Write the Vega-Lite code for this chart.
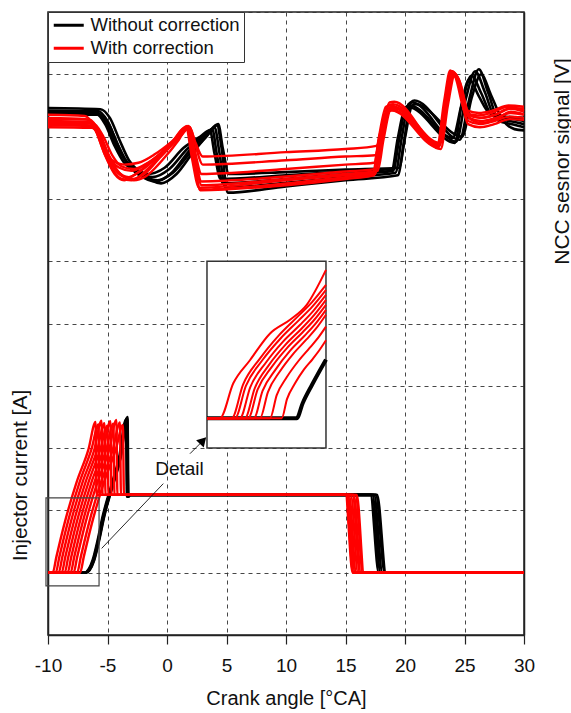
{
"$schema": "https://vega.github.io/schema/vega-lite/v6.json",
"width": 476, "height": 623,
"autosize": {"type": "none"},
"padding": {"left": 48, "top": 12, "right": 47, "bottom": 78},
"background": "white",
"config": {
  "font": "Liberation Sans",
  "view": {"stroke": "#222", "strokeWidth": 1.5},
  "axis": {"gridColor": "#333", "gridDash": [4, 4], "gridWidth": 1, "gridOpacity": 0.9, "domainColor": "#222", "domainWidth": 1.5, "tickColor": "#222", "labelColor": "#111", "titleColor": "#111", "labelFont": "Liberation Sans", "titleFont": "Liberation Sans", "titleFontWeight": "normal"},
  "legend": {"orient": "top-left", "offset": 0, "padding": 4, "fillColor": "white", "strokeColor": "#333", "symbolType": "M-1,0H3", "symbolSize": 225, "symbolStrokeWidth": 3, "labelFontSize": 18.5, "labelLimit": 300, "labelColor": "#111", "rowPadding": 4, "labelOffset": 20}
},
"datasets": {
"main": [
{"s":"nb1","g":"b","x":-10,"y":8.46},{"s":"nb1","g":"b","x":-5.6,"y":8.44},{"s":"nb1","g":"b","x":-4.8,"y":8.3},{"s":"nb1","g":"b","x":-4.0,"y":7.95},{"s":"nb1","g":"b","x":-3.2,"y":7.62},{"s":"nb1","g":"b","x":-2.2,"y":7.42},{"s":"nb1","g":"b","x":-0.5,"y":7.25},{"s":"nb1","g":"b","x":0.8,"y":7.4},{"s":"nb1","g":"b","x":2.2,"y":7.75},{"s":"nb1","g":"b","x":3.4,"y":8.02},{"s":"nb1","g":"b","x":4.2,"y":8.18},{"s":"nb1","g":"b","x":4.6,"y":7.8},{"s":"nb1","g":"b","x":5.1,"y":7.1},{"s":"nb1","g":"b","x":10,"y":7.2},{"s":"nb1","g":"b","x":15,"y":7.3},{"s":"nb1","g":"b","x":19.4,"y":7.38},{"s":"nb1","g":"b","x":19.9,"y":7.9},{"s":"nb1","g":"b","x":20.5,"y":8.55},{"s":"nb1","g":"b","x":20.8,"y":8.58},{"s":"nb1","g":"b","x":24.6,"y":7.95},{"s":"nb1","g":"b","x":25.4,"y":8.6},{"s":"nb1","g":"b","x":26.2,"y":9.08},{"s":"nb1","g":"b","x":27.0,"y":8.7},{"s":"nb1","g":"b","x":27.9,"y":8.25},{"s":"nb1","g":"b","x":29,"y":8.2},{"s":"nb1","g":"b","x":30,"y":8.15},
{"s":"nb2","g":"b","x":-10,"y":8.42},{"s":"nb2","g":"b","x":-5.8,"y":8.41},{"s":"nb2","g":"b","x":-5.0,"y":8.25},{"s":"nb2","g":"b","x":-4.2,"y":7.9},{"s":"nb2","g":"b","x":-3.4,"y":7.6},{"s":"nb2","g":"b","x":-2.4,"y":7.42},{"s":"nb2","g":"b","x":-0.8,"y":7.3},{"s":"nb2","g":"b","x":0.5,"y":7.42},{"s":"nb2","g":"b","x":2.0,"y":7.75},{"s":"nb2","g":"b","x":3.2,"y":7.98},{"s":"nb2","g":"b","x":4.0,"y":8.15},{"s":"nb2","g":"b","x":4.4,"y":7.75},{"s":"nb2","g":"b","x":4.9,"y":7.18},{"s":"nb2","g":"b","x":10,"y":7.26},{"s":"nb2","g":"b","x":15,"y":7.35},{"s":"nb2","g":"b","x":19.2,"y":7.42},{"s":"nb2","g":"b","x":19.7,"y":7.95},{"s":"nb2","g":"b","x":20.3,"y":8.52},{"s":"nb2","g":"b","x":20.6,"y":8.55},{"s":"nb2","g":"b","x":24.3,"y":7.92},{"s":"nb2","g":"b","x":25.1,"y":8.6},{"s":"nb2","g":"b","x":25.9,"y":9.05},{"s":"nb2","g":"b","x":26.7,"y":8.72},{"s":"nb2","g":"b","x":27.6,"y":8.3},{"s":"nb2","g":"b","x":28.8,"y":8.25},{"s":"nb2","g":"b","x":30,"y":8.2},
{"s":"nb3","g":"b","x":-10,"y":8.38},{"s":"nb3","g":"b","x":-6.0,"y":8.37},{"s":"nb3","g":"b","x":-5.2,"y":8.2},{"s":"nb3","g":"b","x":-4.4,"y":7.85},{"s":"nb3","g":"b","x":-3.6,"y":7.58},{"s":"nb3","g":"b","x":-2.6,"y":7.45},{"s":"nb3","g":"b","x":-1.2,"y":7.35},{"s":"nb3","g":"b","x":0.2,"y":7.48},{"s":"nb3","g":"b","x":1.7,"y":7.8},{"s":"nb3","g":"b","x":3.0,"y":8.0},{"s":"nb3","g":"b","x":3.8,"y":8.12},{"s":"nb3","g":"b","x":4.2,"y":7.7},{"s":"nb3","g":"b","x":4.7,"y":7.25},{"s":"nb3","g":"b","x":10,"y":7.32},{"s":"nb3","g":"b","x":15,"y":7.4},{"s":"nb3","g":"b","x":19.0,"y":7.45},{"s":"nb3","g":"b","x":19.5,"y":7.95},{"s":"nb3","g":"b","x":20.1,"y":8.48},{"s":"nb3","g":"b","x":20.4,"y":8.5},{"s":"nb3","g":"b","x":24.0,"y":7.98},{"s":"nb3","g":"b","x":24.8,"y":8.55},{"s":"nb3","g":"b","x":25.6,"y":8.98},{"s":"nb3","g":"b","x":26.4,"y":8.7},{"s":"nb3","g":"b","x":27.3,"y":8.35},{"s":"nb3","g":"b","x":28.6,"y":8.3},{"s":"nb3","g":"b","x":30,"y":8.25},
{"s":"nb4","g":"b","x":-10,"y":8.40},{"s":"nb4","g":"b","x":-5.9,"y":8.39},{"s":"nb4","g":"b","x":-5.1,"y":8.22},{"s":"nb4","g":"b","x":-4.3,"y":7.88},{"s":"nb4","g":"b","x":-3.5,"y":7.62},{"s":"nb4","g":"b","x":-2.6,"y":7.48},{"s":"nb4","g":"b","x":-1.6,"y":7.4},{"s":"nb4","g":"b","x":-0.2,"y":7.5},{"s":"nb4","g":"b","x":1.4,"y":7.82},{"s":"nb4","g":"b","x":2.8,"y":8.0},{"s":"nb4","g":"b","x":3.6,"y":8.1},{"s":"nb4","g":"b","x":4.0,"y":7.72},{"s":"nb4","g":"b","x":4.5,"y":7.32},{"s":"nb4","g":"b","x":10,"y":7.38},{"s":"nb4","g":"b","x":15,"y":7.44},{"s":"nb4","g":"b","x":18.9,"y":7.48},{"s":"nb4","g":"b","x":19.4,"y":7.98},{"s":"nb4","g":"b","x":20.0,"y":8.45},{"s":"nb4","g":"b","x":20.3,"y":8.47},{"s":"nb4","g":"b","x":24.2,"y":7.9},{"s":"nb4","g":"b","x":24.7,"y":8.45},{"s":"nb4","g":"b","x":25.4,"y":8.92},{"s":"nb4","g":"b","x":26.2,"y":8.65},{"s":"nb4","g":"b","x":27.1,"y":8.38},{"s":"nb4","g":"b","x":28.5,"y":8.32},{"s":"nb4","g":"b","x":30,"y":8.3},
{"s":"nb5","g":"b","x":-10,"y":8.36},{"s":"nb5","g":"b","x":-5.7,"y":8.35},{"s":"nb5","g":"b","x":-4.9,"y":8.2},{"s":"nb5","g":"b","x":-4.1,"y":7.85},{"s":"nb5","g":"b","x":-3.3,"y":7.55},{"s":"nb5","g":"b","x":-2.3,"y":7.38},{"s":"nb5","g":"b","x":-1.0,"y":7.28},{"s":"nb5","g":"b","x":0.4,"y":7.42},{"s":"nb5","g":"b","x":1.9,"y":7.78},{"s":"nb5","g":"b","x":3.4,"y":8.05},{"s":"nb5","g":"b","x":4.3,"y":8.2},{"s":"nb5","g":"b","x":4.7,"y":7.8},{"s":"nb5","g":"b","x":5.2,"y":7.4},{"s":"nb5","g":"b","x":10,"y":7.43},{"s":"nb5","g":"b","x":15,"y":7.47},{"s":"nb5","g":"b","x":19.5,"y":7.5},{"s":"nb5","g":"b","x":20.0,"y":7.98},{"s":"nb5","g":"b","x":20.6,"y":8.5},{"s":"nb5","g":"b","x":20.9,"y":8.52},{"s":"nb5","g":"b","x":24.8,"y":8.0},{"s":"nb5","g":"b","x":25.6,"y":8.62},{"s":"nb5","g":"b","x":26.4,"y":9.0},{"s":"nb5","g":"b","x":27.2,"y":8.68},{"s":"nb5","g":"b","x":28.1,"y":8.3},{"s":"nb5","g":"b","x":29.2,"y":8.12},{"s":"nb5","g":"b","x":30,"y":8.1},
{"s":"ib1","g":"b","x":-10,"y":1},{"s":"ib1","g":"b","x":-6.95,"y":1},{"s":"ib1","g":"b","x":-6.25,"y":1.2},{"s":"ib1","g":"b","x":-5.83,"y":1.52},{"s":"ib1","g":"b","x":-5.41,"y":1.9},{"s":"ib1","g":"b","x":-4.71,"y":2.38},{"s":"ib1","g":"b","x":-4.01,"y":2.86},{"s":"ib1","g":"b","x":-3.45,"y":3.46},{"s":"ib1","g":"b","x":-3.36,"y":2.22},{"s":"ib1","g":"b","x":-3.2,"y":2.25},{"s":"ib1","g":"b","x":17.1,"y":2.25},{"s":"ib1","g":"b","x":17.8,"y":1},{"s":"ib1","g":"b","x":30,"y":1},
{"s":"ib2","g":"b","x":-10,"y":1},{"s":"ib2","g":"b","x":-6.88,"y":1},{"s":"ib2","g":"b","x":-6.18,"y":1.2},{"s":"ib2","g":"b","x":-5.76,"y":1.52},{"s":"ib2","g":"b","x":-5.34,"y":1.9},{"s":"ib2","g":"b","x":-4.64,"y":2.38},{"s":"ib2","g":"b","x":-3.94,"y":2.86},{"s":"ib2","g":"b","x":-3.38,"y":3.48},{"s":"ib2","g":"b","x":-3.3,"y":2.22},{"s":"ib2","g":"b","x":-3.15,"y":2.25},{"s":"ib2","g":"b","x":17.25,"y":2.25},{"s":"ib2","g":"b","x":17.95,"y":1},{"s":"ib2","g":"b","x":30,"y":1},
{"s":"ib3","g":"b","x":-10,"y":1},{"s":"ib3","g":"b","x":-6.82,"y":1},{"s":"ib3","g":"b","x":-6.12,"y":1.2},{"s":"ib3","g":"b","x":-5.70,"y":1.52},{"s":"ib3","g":"b","x":-5.28,"y":1.9},{"s":"ib3","g":"b","x":-4.58,"y":2.38},{"s":"ib3","g":"b","x":-3.88,"y":2.86},{"s":"ib3","g":"b","x":-3.32,"y":3.5},{"s":"ib3","g":"b","x":-3.24,"y":2.22},{"s":"ib3","g":"b","x":-3.1,"y":2.25},{"s":"ib3","g":"b","x":17.4,"y":2.25},{"s":"ib3","g":"b","x":18.1,"y":1},{"s":"ib3","g":"b","x":30,"y":1},
{"s":"ib4","g":"b","x":-10,"y":1},{"s":"ib4","g":"b","x":-6.9,"y":1},{"s":"ib4","g":"b","x":-6.2,"y":1.2},{"s":"ib4","g":"b","x":-5.78,"y":1.52},{"s":"ib4","g":"b","x":-5.36,"y":1.9},{"s":"ib4","g":"b","x":-4.66,"y":2.38},{"s":"ib4","g":"b","x":-3.96,"y":2.86},{"s":"ib4","g":"b","x":-3.4,"y":3.44},{"s":"ib4","g":"b","x":-3.32,"y":2.22},{"s":"ib4","g":"b","x":-3.18,"y":2.25},{"s":"ib4","g":"b","x":17.55,"y":2.25},{"s":"ib4","g":"b","x":18.3,"y":1},{"s":"ib4","g":"b","x":30,"y":1},
{"s":"ib5","g":"b","x":-10,"y":1},{"s":"ib5","g":"b","x":-6.85,"y":1},{"s":"ib5","g":"b","x":-6.15,"y":1.2},{"s":"ib5","g":"b","x":-5.73,"y":1.52},{"s":"ib5","g":"b","x":-5.31,"y":1.9},{"s":"ib5","g":"b","x":-4.61,"y":2.38},{"s":"ib5","g":"b","x":-3.91,"y":2.86},{"s":"ib5","g":"b","x":-3.35,"y":3.47},{"s":"ib5","g":"b","x":-3.27,"y":2.22},{"s":"ib5","g":"b","x":-3.12,"y":2.25},{"s":"ib5","g":"b","x":17.65,"y":2.25},{"s":"ib5","g":"b","x":18.4,"y":1},{"s":"ib5","g":"b","x":30,"y":1},
{"s":"nr1","g":"r","x":-10,"y":8.30},{"s":"nr1","g":"r","x":-6.8,"y":8.28},{"s":"nr1","g":"r","x":-6.0,"y":8.1},{"s":"nr1","g":"r","x":-5.2,"y":7.7},{"s":"nr1","g":"r","x":-4.4,"y":7.4},{"s":"nr1","g":"r","x":-3.6,"y":7.3},{"s":"nr1","g":"r","x":-2.8,"y":7.38},{"s":"nr1","g":"r","x":-1.0,"y":7.65},{"s":"nr1","g":"r","x":0.6,"y":7.95},{"s":"nr1","g":"r","x":1.7,"y":8.17},{"s":"nr1","g":"r","x":2.2,"y":7.7},{"s":"nr1","g":"r","x":2.8,"y":7.15},{"s":"nr1","g":"r","x":10,"y":7.25},{"s":"nr1","g":"r","x":15,"y":7.35},{"s":"nr1","g":"r","x":17.5,"y":7.4},{"s":"nr1","g":"r","x":18.0,"y":7.95},{"s":"nr1","g":"r","x":18.6,"y":8.45},{"s":"nr1","g":"r","x":19.0,"y":8.48},{"s":"nr1","g":"r","x":22.8,"y":7.85},{"s":"nr1","g":"r","x":23.4,"y":8.5},{"s":"nr1","g":"r","x":24.0,"y":9.05},{"s":"nr1","g":"r","x":24.4,"y":8.95},{"s":"nr1","g":"r","x":25.3,"y":8.35},{"s":"nr1","g":"r","x":26.3,"y":8.3},{"s":"nr1","g":"r","x":27.5,"y":8.35},{"s":"nr1","g":"r","x":28.8,"y":8.45},{"s":"nr1","g":"r","x":30,"y":8.4},
{"s":"nr2","g":"r","x":-10,"y":8.25},{"s":"nr2","g":"r","x":-6.6,"y":8.23},{"s":"nr2","g":"r","x":-5.8,"y":8.05},{"s":"nr2","g":"r","x":-5.0,"y":7.68},{"s":"nr2","g":"r","x":-4.2,"y":7.45},{"s":"nr2","g":"r","x":-3.2,"y":7.35},{"s":"nr2","g":"r","x":-2.2,"y":7.45},{"s":"nr2","g":"r","x":-0.6,"y":7.7},{"s":"nr2","g":"r","x":0.8,"y":7.95},{"s":"nr2","g":"r","x":1.8,"y":8.15},{"s":"nr2","g":"r","x":2.3,"y":7.75},{"s":"nr2","g":"r","x":2.9,"y":7.28},{"s":"nr2","g":"r","x":10,"y":7.36},{"s":"nr2","g":"r","x":15,"y":7.44},{"s":"nr2","g":"r","x":17.6,"y":7.48},{"s":"nr2","g":"r","x":18.1,"y":8.0},{"s":"nr2","g":"r","x":18.7,"y":8.42},{"s":"nr2","g":"r","x":19.1,"y":8.45},{"s":"nr2","g":"r","x":22.9,"y":7.88},{"s":"nr2","g":"r","x":23.5,"y":8.55},{"s":"nr2","g":"r","x":24.1,"y":9.02},{"s":"nr2","g":"r","x":24.5,"y":8.9},{"s":"nr2","g":"r","x":25.4,"y":8.3},{"s":"nr2","g":"r","x":26.4,"y":8.25},{"s":"nr2","g":"r","x":27.6,"y":8.3},{"s":"nr2","g":"r","x":28.9,"y":8.38},{"s":"nr2","g":"r","x":30,"y":8.35},
{"s":"nr3","g":"r","x":-10,"y":8.2},{"s":"nr3","g":"r","x":-6.4,"y":8.18},{"s":"nr3","g":"r","x":-5.6,"y":8.0},{"s":"nr3","g":"r","x":-4.8,"y":7.65},{"s":"nr3","g":"r","x":-4.0,"y":7.5},{"s":"nr3","g":"r","x":-3.0,"y":7.45},{"s":"nr3","g":"r","x":-1.8,"y":7.55},{"s":"nr3","g":"r","x":-0.2,"y":7.78},{"s":"nr3","g":"r","x":1.0,"y":7.98},{"s":"nr3","g":"r","x":1.8,"y":8.14},{"s":"nr3","g":"r","x":2.3,"y":7.8},{"s":"nr3","g":"r","x":2.9,"y":7.4},{"s":"nr3","g":"r","x":10,"y":7.48},{"s":"nr3","g":"r","x":15,"y":7.55},{"s":"nr3","g":"r","x":17.4,"y":7.58},{"s":"nr3","g":"r","x":17.9,"y":8.05},{"s":"nr3","g":"r","x":18.5,"y":8.4},{"s":"nr3","g":"r","x":18.9,"y":8.42},{"s":"nr3","g":"r","x":22.8,"y":7.82},{"s":"nr3","g":"r","x":23.4,"y":8.6},{"s":"nr3","g":"r","x":23.9,"y":9.05},{"s":"nr3","g":"r","x":24.3,"y":8.95},{"s":"nr3","g":"r","x":25.2,"y":8.42},{"s":"nr3","g":"r","x":26.2,"y":8.38},{"s":"nr3","g":"r","x":27.4,"y":8.42},{"s":"nr3","g":"r","x":28.7,"y":8.5},{"s":"nr3","g":"r","x":30,"y":8.48},
{"s":"nr4","g":"r","x":-10,"y":8.15},{"s":"nr4","g":"r","x":-6.3,"y":8.14},{"s":"nr4","g":"r","x":-5.5,"y":7.95},{"s":"nr4","g":"r","x":-4.6,"y":7.62},{"s":"nr4","g":"r","x":-3.6,"y":7.55},{"s":"nr4","g":"r","x":-2.4,"y":7.58},{"s":"nr4","g":"r","x":-1.0,"y":7.72},{"s":"nr4","g":"r","x":0.4,"y":7.92},{"s":"nr4","g":"r","x":1.2,"y":8.05},{"s":"nr4","g":"r","x":1.9,"y":8.16},{"s":"nr4","g":"r","x":2.4,"y":7.85},{"s":"nr4","g":"r","x":3.0,"y":7.55},{"s":"nr4","g":"r","x":10,"y":7.62},{"s":"nr4","g":"r","x":15,"y":7.68},{"s":"nr4","g":"r","x":17.5,"y":7.7},{"s":"nr4","g":"r","x":18.0,"y":8.1},{"s":"nr4","g":"r","x":18.6,"y":8.5},{"s":"nr4","g":"r","x":19.0,"y":8.52},{"s":"nr4","g":"r","x":22.9,"y":7.9},{"s":"nr4","g":"r","x":23.5,"y":8.62},{"s":"nr4","g":"r","x":24.0,"y":9.04},{"s":"nr4","g":"r","x":24.4,"y":8.92},{"s":"nr4","g":"r","x":25.3,"y":8.25},{"s":"nr4","g":"r","x":26.3,"y":8.2},{"s":"nr4","g":"r","x":27.5,"y":8.25},{"s":"nr4","g":"r","x":28.8,"y":8.32},{"s":"nr4","g":"r","x":30,"y":8.3},
{"s":"nr5","g":"r","x":-10,"y":8.35},{"s":"nr5","g":"r","x":-6.9,"y":8.33},{"s":"nr5","g":"r","x":-6.1,"y":8.15},{"s":"nr5","g":"r","x":-5.3,"y":7.75},{"s":"nr5","g":"r","x":-4.5,"y":7.45},{"s":"nr5","g":"r","x":-3.8,"y":7.32},{"s":"nr5","g":"r","x":-3.0,"y":7.3},{"s":"nr5","g":"r","x":-1.5,"y":7.5},{"s":"nr5","g":"r","x":0.2,"y":7.85},{"s":"nr5","g":"r","x":1.6,"y":8.15},{"s":"nr5","g":"r","x":2.1,"y":7.65},{"s":"nr5","g":"r","x":2.7,"y":7.18},{"s":"nr5","g":"r","x":10,"y":7.3},{"s":"nr5","g":"r","x":15,"y":7.38},{"s":"nr5","g":"r","x":17.3,"y":7.42},{"s":"nr5","g":"r","x":17.8,"y":7.98},{"s":"nr5","g":"r","x":18.4,"y":8.48},{"s":"nr5","g":"r","x":18.8,"y":8.5},{"s":"nr5","g":"r","x":22.7,"y":7.86},{"s":"nr5","g":"r","x":23.3,"y":8.58},{"s":"nr5","g":"r","x":23.8,"y":9.06},{"s":"nr5","g":"r","x":24.2,"y":8.97},{"s":"nr5","g":"r","x":25.1,"y":8.38},{"s":"nr5","g":"r","x":26.1,"y":8.34},{"s":"nr5","g":"r","x":27.3,"y":8.38},{"s":"nr5","g":"r","x":28.6,"y":8.48},{"s":"nr5","g":"r","x":30,"y":8.42},
{"s":"nr6","g":"r","x":-10,"y":8.28},{"s":"nr6","g":"r","x":-6.5,"y":8.27},{"s":"nr6","g":"r","x":-5.7,"y":8.08},{"s":"nr6","g":"r","x":-4.9,"y":7.7},{"s":"nr6","g":"r","x":-4.0,"y":7.42},{"s":"nr6","g":"r","x":-2.8,"y":7.3},{"s":"nr6","g":"r","x":-1.8,"y":7.36},{"s":"nr6","g":"r","x":-0.4,"y":7.62},{"s":"nr6","g":"r","x":1.0,"y":7.95},{"s":"nr6","g":"r","x":1.8,"y":8.17},{"s":"nr6","g":"r","x":2.3,"y":7.72},{"s":"nr6","g":"r","x":2.9,"y":7.22},{"s":"nr6","g":"r","x":10,"y":7.32},{"s":"nr6","g":"r","x":15,"y":7.4},{"s":"nr6","g":"r","x":17.7,"y":7.45},{"s":"nr6","g":"r","x":18.2,"y":7.96},{"s":"nr6","g":"r","x":18.8,"y":8.44},{"s":"nr6","g":"r","x":19.2,"y":8.46},{"s":"nr6","g":"r","x":23.0,"y":7.8},{"s":"nr6","g":"r","x":23.6,"y":8.5},{"s":"nr6","g":"r","x":24.2,"y":9.0},{"s":"nr6","g":"r","x":24.6,"y":8.88},{"s":"nr6","g":"r","x":25.5,"y":8.28},{"s":"nr6","g":"r","x":26.5,"y":8.22},{"s":"nr6","g":"r","x":27.7,"y":8.28},{"s":"nr6","g":"r","x":28.9,"y":8.4},{"s":"nr6","g":"r","x":30,"y":8.36},
{"s":"nr7","g":"r","x":-10,"y":8.22},{"s":"nr7","g":"r","x":-6.2,"y":8.21},{"s":"nr7","g":"r","x":-5.4,"y":8.02},{"s":"nr7","g":"r","x":-4.6,"y":7.7},{"s":"nr7","g":"r","x":-3.8,"y":7.52},{"s":"nr7","g":"r","x":-2.8,"y":7.48},{"s":"nr7","g":"r","x":-1.6,"y":7.58},{"s":"nr7","g":"r","x":0.0,"y":7.82},{"s":"nr7","g":"r","x":1.2,"y":8.02},{"s":"nr7","g":"r","x":1.9,"y":8.15},{"s":"nr7","g":"r","x":2.4,"y":7.9},{"s":"nr7","g":"r","x":3.0,"y":7.68},{"s":"nr7","g":"r","x":10,"y":7.75},{"s":"nr7","g":"r","x":15,"y":7.8},{"s":"nr7","g":"r","x":17.6,"y":7.85},{"s":"nr7","g":"r","x":18.1,"y":8.15},{"s":"nr7","g":"r","x":18.7,"y":8.55},{"s":"nr7","g":"r","x":19.1,"y":8.56},{"s":"nr7","g":"r","x":22.9,"y":7.85},{"s":"nr7","g":"r","x":23.5,"y":8.58},{"s":"nr7","g":"r","x":24.1,"y":9.03},{"s":"nr7","g":"r","x":24.5,"y":8.93},{"s":"nr7","g":"r","x":25.4,"y":8.35},{"s":"nr7","g":"r","x":26.4,"y":8.3},{"s":"nr7","g":"r","x":27.6,"y":8.35},{"s":"nr7","g":"r","x":28.9,"y":8.45},{"s":"nr7","g":"r","x":30,"y":8.45},
{"s":"nr8","g":"r","x":-10,"y":8.18},{"s":"nr8","g":"r","x":-6.4,"y":8.17},{"s":"nr8","g":"r","x":-5.6,"y":7.98},{"s":"nr8","g":"r","x":-4.8,"y":7.6},{"s":"nr8","g":"r","x":-3.9,"y":7.38},{"s":"nr8","g":"r","x":-2.9,"y":7.32},{"s":"nr8","g":"r","x":-1.9,"y":7.4},{"s":"nr8","g":"r","x":-0.6,"y":7.66},{"s":"nr8","g":"r","x":0.8,"y":7.95},{"s":"nr8","g":"r","x":1.7,"y":8.16},{"s":"nr8","g":"r","x":2.2,"y":7.7},{"s":"nr8","g":"r","x":2.8,"y":7.14},{"s":"nr8","g":"r","x":10,"y":7.22},{"s":"nr8","g":"r","x":15,"y":7.32},{"s":"nr8","g":"r","x":17.4,"y":7.38},{"s":"nr8","g":"r","x":17.9,"y":7.95},{"s":"nr8","g":"r","x":18.5,"y":8.4},{"s":"nr8","g":"r","x":18.9,"y":8.43},{"s":"nr8","g":"r","x":22.8,"y":7.88},{"s":"nr8","g":"r","x":23.4,"y":8.55},{"s":"nr8","g":"r","x":24.0,"y":9.0},{"s":"nr8","g":"r","x":24.4,"y":8.9},{"s":"nr8","g":"r","x":25.3,"y":8.2},{"s":"nr8","g":"r","x":26.3,"y":8.15},{"s":"nr8","g":"r","x":27.5,"y":8.2},{"s":"nr8","g":"r","x":28.8,"y":8.28},{"s":"nr8","g":"r","x":30,"y":8.27},
{"s":"ir1","g":"r","x":-10,"y":1},{"s":"ir1","g":"r","x":-9.6,"y":1},{"s":"ir1","g":"r","x":-9.3,"y":1.25},{"s":"ir1","g":"r","x":-8.6,"y":1.8},{"s":"ir1","g":"r","x":-7.6,"y":2.45},{"s":"ir1","g":"r","x":-6.6,"y":2.98},{"s":"ir1","g":"r","x":-6.0,"y":3.42},{"s":"ir1","g":"r","x":-5.92,"y":2.25},{"s":"ir1","g":"r","x":15.0,"y":2.25},{"s":"ir1","g":"r","x":15.6,"y":1},{"s":"ir1","g":"r","x":30,"y":1},
{"s":"ir2","g":"r","x":-10,"y":1},{"s":"ir2","g":"r","x":-9.35,"y":1},{"s":"ir2","g":"r","x":-9.05,"y":1.25},{"s":"ir2","g":"r","x":-8.35,"y":1.8},{"s":"ir2","g":"r","x":-7.35,"y":2.45},{"s":"ir2","g":"r","x":-6.35,"y":2.98},{"s":"ir2","g":"r","x":-5.75,"y":3.38},{"s":"ir2","g":"r","x":-5.67,"y":2.25},{"s":"ir2","g":"r","x":15.85,"y":2.25},{"s":"ir2","g":"r","x":16.45,"y":1},{"s":"ir2","g":"r","x":30,"y":1},
{"s":"ir3","g":"r","x":-10,"y":1},{"s":"ir3","g":"r","x":-9.1,"y":1},{"s":"ir3","g":"r","x":-8.8,"y":1.25},{"s":"ir3","g":"r","x":-8.1,"y":1.8},{"s":"ir3","g":"r","x":-7.1,"y":2.45},{"s":"ir3","g":"r","x":-6.1,"y":2.98},{"s":"ir3","g":"r","x":-5.5,"y":3.44},{"s":"ir3","g":"r","x":-5.42,"y":2.25},{"s":"ir3","g":"r","x":15.1,"y":2.25},{"s":"ir3","g":"r","x":15.7,"y":1},{"s":"ir3","g":"r","x":30,"y":1},
{"s":"ir4","g":"r","x":-10,"y":1},{"s":"ir4","g":"r","x":-8.85,"y":1},{"s":"ir4","g":"r","x":-8.55,"y":1.25},{"s":"ir4","g":"r","x":-7.85,"y":1.8},{"s":"ir4","g":"r","x":-6.85,"y":2.45},{"s":"ir4","g":"r","x":-5.85,"y":2.98},{"s":"ir4","g":"r","x":-5.25,"y":3.40},{"s":"ir4","g":"r","x":-5.17,"y":2.25},{"s":"ir4","g":"r","x":15.6,"y":2.25},{"s":"ir4","g":"r","x":16.2,"y":1},{"s":"ir4","g":"r","x":30,"y":1},
{"s":"ir5","g":"r","x":-10,"y":1},{"s":"ir5","g":"r","x":-8.6,"y":1},{"s":"ir5","g":"r","x":-8.3,"y":1.25},{"s":"ir5","g":"r","x":-7.6,"y":1.8},{"s":"ir5","g":"r","x":-6.6,"y":2.45},{"s":"ir5","g":"r","x":-5.6,"y":2.98},{"s":"ir5","g":"r","x":-5.0,"y":3.36},{"s":"ir5","g":"r","x":-4.92,"y":2.25},{"s":"ir5","g":"r","x":15.2,"y":2.25},{"s":"ir5","g":"r","x":15.8,"y":1},{"s":"ir5","g":"r","x":30,"y":1},
{"s":"ir6","g":"r","x":-10,"y":1},{"s":"ir6","g":"r","x":-8.35,"y":1},{"s":"ir6","g":"r","x":-8.05,"y":1.25},{"s":"ir6","g":"r","x":-7.35,"y":1.8},{"s":"ir6","g":"r","x":-6.35,"y":2.45},{"s":"ir6","g":"r","x":-5.35,"y":2.98},{"s":"ir6","g":"r","x":-4.75,"y":3.43},{"s":"ir6","g":"r","x":-4.67,"y":2.25},{"s":"ir6","g":"r","x":15.95,"y":2.25},{"s":"ir6","g":"r","x":16.55,"y":1},{"s":"ir6","g":"r","x":30,"y":1},
{"s":"ir7","g":"r","x":-10,"y":1},{"s":"ir7","g":"r","x":-8.1,"y":1},{"s":"ir7","g":"r","x":-7.8,"y":1.25},{"s":"ir7","g":"r","x":-7.1,"y":1.8},{"s":"ir7","g":"r","x":-6.1,"y":2.45},{"s":"ir7","g":"r","x":-5.1,"y":2.98},{"s":"ir7","g":"r","x":-4.5,"y":3.39},{"s":"ir7","g":"r","x":-4.42,"y":2.25},{"s":"ir7","g":"r","x":15.3,"y":2.25},{"s":"ir7","g":"r","x":15.9,"y":1},{"s":"ir7","g":"r","x":30,"y":1},
{"s":"ir8","g":"r","x":-10,"y":1},{"s":"ir8","g":"r","x":-7.85,"y":1},{"s":"ir8","g":"r","x":-7.55,"y":1.25},{"s":"ir8","g":"r","x":-6.85,"y":1.8},{"s":"ir8","g":"r","x":-5.85,"y":2.45},{"s":"ir8","g":"r","x":-4.85,"y":2.98},{"s":"ir8","g":"r","x":-4.25,"y":3.45},{"s":"ir8","g":"r","x":-4.17,"y":2.25},{"s":"ir8","g":"r","x":15.45,"y":2.25},{"s":"ir8","g":"r","x":16.05,"y":1},{"s":"ir8","g":"r","x":30,"y":1},
{"s":"ir9","g":"r","x":-10,"y":1},{"s":"ir9","g":"r","x":-7.55,"y":1},{"s":"ir9","g":"r","x":-7.25,"y":1.25},{"s":"ir9","g":"r","x":-6.55,"y":1.8},{"s":"ir9","g":"r","x":-5.55,"y":2.45},{"s":"ir9","g":"r","x":-4.55,"y":2.98},{"s":"ir9","g":"r","x":-3.95,"y":3.41},{"s":"ir9","g":"r","x":-3.87,"y":2.25},{"s":"ir9","g":"r","x":15.7,"y":2.25},{"s":"ir9","g":"r","x":16.3,"y":1},{"s":"ir9","g":"r","x":30,"y":1},
{"s":"ir10","g":"r","x":-10,"y":1},{"s":"ir10","g":"r","x":-7.3,"y":1},{"s":"ir10","g":"r","x":-7.0,"y":1.25},{"s":"ir10","g":"r","x":-6.3,"y":1.8},{"s":"ir10","g":"r","x":-5.3,"y":2.45},{"s":"ir10","g":"r","x":-4.3,"y":2.98},{"s":"ir10","g":"r","x":-3.7,"y":3.37},{"s":"ir10","g":"r","x":-3.62,"y":2.25},{"s":"ir10","g":"r","x":15.05,"y":2.25},{"s":"ir10","g":"r","x":15.65,"y":1},{"s":"ir10","g":"r","x":30,"y":1}
],
"inset": [
{"s":"c1","x":3.36,"y":3.48},{"s":"c1","x":4.45,"y":3.48},{"s":"c1","x":5.57,"y":4.04},{"s":"c1","x":6.97,"y":4.41},{"s":"c1","x":8.66,"y":4.84},{"s":"c1","x":10.34,"y":5.06},{"s":"c1","x":11.74,"y":5.30},{"s":"c1","x":13.36,"y":5.86},
{"s":"c2","x":3.36,"y":3.48},{"s":"c2","x":5.44,"y":3.48},{"s":"c2","x":6.39,"y":4.02},{"s":"c2","x":7.82,"y":4.44},{"s":"c2","x":9.40,"y":4.81},{"s":"c2","x":10.98,"y":5.11},{"s":"c2","x":12.17,"y":5.34},{"s":"c2","x":13.36,"y":5.62},
{"s":"c3","x":3.36,"y":3.48},{"s":"c3","x":5.71,"y":3.48},{"s":"c3","x":6.63,"y":4.00},{"s":"c3","x":8.01,"y":4.41},{"s":"c3","x":9.54,"y":4.76},{"s":"c3","x":11.07,"y":5.05},{"s":"c3","x":12.21,"y":5.27},{"s":"c3","x":13.36,"y":5.54},
{"s":"c4","x":3.36,"y":3.48},{"s":"c4","x":6.13,"y":3.48},{"s":"c4","x":7.00,"y":3.98},{"s":"c4","x":8.30,"y":4.37},{"s":"c4","x":9.75,"y":4.71},{"s":"c4","x":11.19,"y":4.98},{"s":"c4","x":12.28,"y":5.20},{"s":"c4","x":13.36,"y":5.46},
{"s":"c5","x":3.36,"y":3.48},{"s":"c5","x":6.55,"y":3.48},{"s":"c5","x":7.37,"y":3.96},{"s":"c5","x":8.59,"y":4.34},{"s":"c5","x":9.96,"y":4.66},{"s":"c5","x":11.32,"y":4.92},{"s":"c5","x":12.34,"y":5.13},{"s":"c5","x":13.36,"y":5.38},
{"s":"c6","x":3.36,"y":3.48},{"s":"c6","x":6.83,"y":3.48},{"s":"c6","x":7.61,"y":3.94},{"s":"c6","x":8.79,"y":4.30},{"s":"c6","x":10.10,"y":4.61},{"s":"c6","x":11.40,"y":4.86},{"s":"c6","x":12.38,"y":5.06},{"s":"c6","x":13.36,"y":5.30},
{"s":"c7","x":3.36,"y":3.48},{"s":"c7","x":7.3,"y":3.48},{"s":"c7","x":8.03,"y":3.92},{"s":"c7","x":9.12,"y":4.26},{"s":"c7","x":10.33,"y":4.56},{"s":"c7","x":11.54,"y":4.80},{"s":"c7","x":12.45,"y":4.99},{"s":"c7","x":13.36,"y":5.22},
{"s":"c8","x":3.36,"y":3.48},{"s":"c8","x":7.82,"y":3.48},{"s":"c8","x":8.48,"y":3.90},{"s":"c8","x":9.48,"y":4.23},{"s":"c8","x":10.59,"y":4.51},{"s":"c8","x":11.70,"y":4.74},{"s":"c8","x":12.53,"y":4.92},{"s":"c8","x":13.36,"y":5.14},
{"s":"c9","x":3.36,"y":3.48},{"s":"c9","x":8.66,"y":3.48},{"s":"c9","x":9.22,"y":3.85},{"s":"c9","x":10.07,"y":4.14},{"s":"c9","x":11.01,"y":4.39},{"s":"c9","x":11.95,"y":4.60},{"s":"c9","x":12.66,"y":4.76},{"s":"c9","x":13.36,"y":4.95},
{"s":"c10","x":3.36,"y":3.48},{"s":"c10","x":9.64,"y":3.48},{"s":"c10","x":10.09,"y":3.79},{"s":"c10","x":10.76,"y":4.04},{"s":"c10","x":11.50,"y":4.26},{"s":"c10","x":12.24,"y":4.43},{"s":"c10","x":12.80,"y":4.57},{"s":"c10","x":13.36,"y":4.73}
],
"insetBlack": [
{"s":"k","x":3.36,"y":3.48},{"s":"k","x":10.9,"y":3.48},{"s":"k","x":11.4,"y":3.72},{"s":"k","x":12.2,"y":4.02},{"s":"k","x":13.36,"y":4.42}
]
},
"layer": [
{
  "data": {"name": "main"},
  "transform": [{"filter": "datum.g == 'b'"}],
  "mark": {"type": "line", "strokeWidth": 2.6, "interpolate": "monotone"},
  "encoding": {
    "x": {"field": "x", "type": "quantitative", "scale": {"domain": [-10, 30], "nice": false},
      "axis": {"values": [-10, -5, 0, 5, 10, 15, 20, 25, 30], "labelExpr": "'' + datum.value", "title": "Crank angle [°CA]", "titleFontSize": 20, "titleX": 238, "titleY": 63, "titleBaseline": "middle", "titleAlign": "center", "labelFontSize": 19, "tickSize": 9, "tickWidth": 1.2, "labelPadding": 21, "labelBaseline": "middle", "grid": true, "labelFlush": false, "labelOverlap": false}},
    "y": {"field": "y", "type": "quantitative", "scale": {"domain": [0, 10], "nice": false},
      "axis": {"orient": "left", "values": [0, 1, 2, 3, 4, 5, 6, 7, 8, 9, 10], "labels": false, "ticks": false, "grid": true, "title": "Injector current [A]", "titleFontSize": 21, "titleAngle": 270, "titleX": -28, "titleY": 463, "titleBaseline": "middle", "titleAlign": "center"}},
    "color": {"field": "g", "type": "nominal", "scale": {"domain": ["b", "r"], "range": ["#000000", "#ff0000"]},
      "legend": {"title": null, "labelExpr": "datum.label == 'b' ? 'Without correction' : 'With correction'"}},
    "detail": {"field": "s"}
  }
},
{
  "data": {"name": "main"},
  "transform": [{"filter": "datum.g == 'r'"}],
  "mark": {"type": "line", "strokeWidth": 2.4, "interpolate": "monotone"},
  "encoding": {
    "x": {"field": "x", "type": "quantitative", "scale": {"domain": [-10, 30], "nice": false}},
    "y": {"field": "y", "type": "quantitative", "scale": {"domain": [0, 10], "nice": false},
      "axis": {"orient": "right", "labels": false, "ticks": false, "grid": false, "title": "NCC sesnor signal [V]", "titleFontSize": 21, "titleAngle": 270, "titleX": 38, "titleY": 149, "titleBaseline": "middle", "titleAlign": "center"}},
    "color": {"field": "g", "type": "nominal", "scale": {"domain": ["b", "r"], "range": ["#000000", "#ff0000"]},
      "legend": {"title": null, "labelExpr": "datum.label == 'b' ? 'Without correction' : 'With correction'"}},
    "detail": {"field": "s"}
  }
},
{
  "data": {"values": [{"x": -10.17, "x2": -5.71, "y": 0.79, "y2": 2.2}]},
  "mark": {"type": "rect", "fillOpacity": 0, "stroke": "#444", "strokeWidth": 1.2},
  "encoding": {
    "x": {"field": "x", "type": "quantitative", "scale": {"domain": [-10, 30], "nice": false}},
    "x2": {"field": "x2"},
    "y": {"field": "y", "type": "quantitative", "scale": {"domain": [0, 10], "nice": false}, "axis": null},
    "y2": {"field": "y2"}
  }
},
{
  "data": {"values": [{"x": -5.49, "y": 1.39}, {"x": -0.31, "y": 2.43}]},
  "mark": {"type": "line", "color": "#111", "strokeWidth": 0.9},
  "encoding": {
    "x": {"field": "x", "type": "quantitative", "scale": {"domain": [-10, 30], "nice": false}},
    "y": {"field": "y", "type": "quantitative", "scale": {"domain": [0, 10], "nice": false}, "axis": null}
  }
},
{
  "data": {"values": [{"x": 1.05, "y": 2.66, "t": "Detail"}]},
  "mark": {"type": "text", "fontSize": 19, "align": "center", "baseline": "middle", "color": "#111", "font": "Liberation Sans"},
  "encoding": {
    "x": {"field": "x", "type": "quantitative", "scale": {"domain": [-10, 30], "nice": false}},
    "y": {"field": "y", "type": "quantitative", "scale": {"domain": [0, 10], "nice": false}, "axis": null},
    "text": {"field": "t"}
  }
},
{
  "data": {"values": [{"x": 1.93, "y": 2.91}, {"x": 3.03, "y": 3.12}]},
  "mark": {"type": "line", "color": "#111", "strokeWidth": 0.9},
  "encoding": {
    "x": {"field": "x", "type": "quantitative", "scale": {"domain": [-10, 30], "nice": false}},
    "y": {"field": "y", "type": "quantitative", "scale": {"domain": [0, 10], "nice": false}, "axis": null}
  }
},
{
  "data": {"values": [{"x": 3.03, "y": 3.12}]},
  "mark": {"type": "point", "shape": "triangle-up", "filled": true, "size": 110, "angle": 44, "color": "#000", "opacity": 1},
  "encoding": {
    "x": {"field": "x", "type": "quantitative", "scale": {"domain": [-10, 30], "nice": false}},
    "y": {"field": "y", "type": "quantitative", "scale": {"domain": [0, 10], "nice": false}, "axis": null}
  }
},
{
  "data": {"values": [{"x": 3.36, "x2": 13.36, "y": 3.0, "y2": 6.0}]},
  "mark": {"type": "rect", "fill": "white", "stroke": "#333", "strokeWidth": 1.5},
  "encoding": {
    "x": {"field": "x", "type": "quantitative", "scale": {"domain": [-10, 30], "nice": false}},
    "x2": {"field": "x2"},
    "y": {"field": "y", "type": "quantitative", "scale": {"domain": [0, 10], "nice": false}, "axis": null},
    "y2": {"field": "y2"}
  }
},
{
  "data": {"name": "insetBlack"},
  "mark": {"type": "line", "color": "#000", "strokeWidth": 4, "interpolate": "monotone"},
  "encoding": {
    "x": {"field": "x", "type": "quantitative", "scale": {"domain": [-10, 30], "nice": false}},
    "y": {"field": "y", "type": "quantitative", "scale": {"domain": [0, 10], "nice": false}, "axis": null},
    "detail": {"field": "s"}
  }
},
{
  "data": {"name": "inset"},
  "mark": {"type": "line", "color": "#ff0000", "strokeWidth": 2, "interpolate": "monotone"},
  "encoding": {
    "x": {"field": "x", "type": "quantitative", "scale": {"domain": [-10, 30], "nice": false}},
    "y": {"field": "y", "type": "quantitative", "scale": {"domain": [0, 10], "nice": false}, "axis": null},
    "detail": {"field": "s"}
  }
}
],
"resolve": {"axis": {"y": "independent"}}
}
